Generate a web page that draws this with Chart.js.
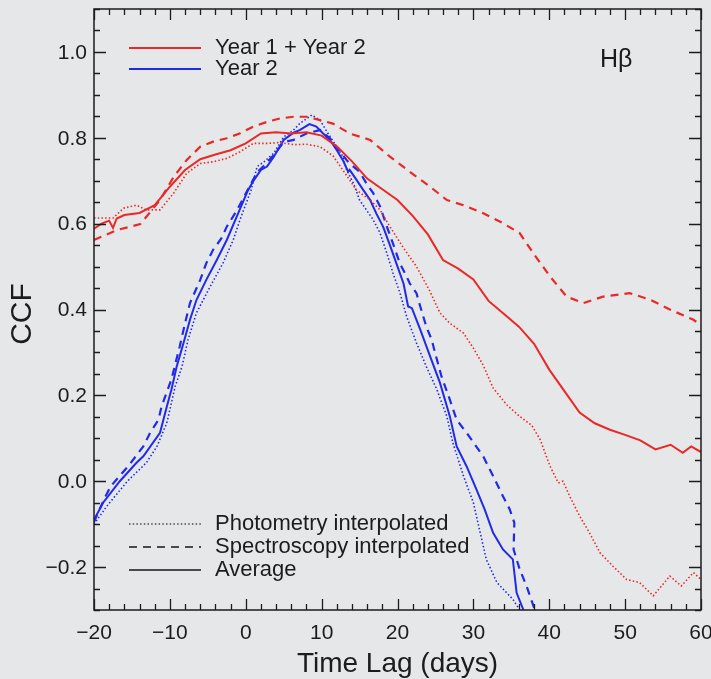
<!DOCTYPE html>
<html>
<head>
<meta charset="utf-8">
<script src="https://cdn.jsdelivr.net/npm/chart.js@4/dist/chart.umd.min.js"></script>
<style>
  html,body{margin:0;padding:0;background:#e6e7e8;}
  canvas{display:block;}
</style>
</head>
<body>
<canvas id="c" width="711" height="679"></canvas>
<script>
// ---- Tick labels ----
const xTickValues = [-20,-10,0,10,20,30,40,50,60];
const xTickLabels = ['\u221220','\u221210','0','10','20','30','40','50','60'];
const yTickValues = [-0.2,0,0.2,0.4,0.6,0.8,1.0];
const yTickLabels = ['\u22120.2','0.0','0.2','0.4','0.6','0.8','1.0'];

// ---- Year 1 + Year 2 (red) ----
const y12AvgLag = [-20,-19,-18,-17.5,-17,-16,-14,-12,-10,-8,-6,-4,-2,0,2,4,6,8,10,12,14,16,18,20,22,24,26,28,30,32,34,36,38,40,42,44,46,48,50,52,54,56,57.6,58.7,60];
const y12AvgCCF = [0.588,0.600,0.607,0.590,0.612,0.620,0.625,0.643,0.686,0.725,0.750,0.761,0.771,0.787,0.810,0.813,0.810,0.813,0.805,0.780,0.745,0.705,0.680,0.655,0.618,0.575,0.515,0.495,0.470,0.420,0.390,0.360,0.320,0.260,0.210,0.160,0.135,0.120,0.108,0.095,0.074,0.085,0.066,0.081,0.068];

const y12SpecLag = [-20,-17,-13.9,-13.1,-11.3,-9.5,-7.8,-6,-4.3,-2.5,-0.8,1,2.8,4.5,6.3,8,9.8,11.5,13.7,16.4,19,21.6,24.3,26.5,28.7,31.3,33.9,36.1,37.9,40.1,42.3,44.5,47.1,50.6,53.3,55.9,59,60];
const y12SpecCCF = [0.562,0.585,0.599,0.616,0.655,0.709,0.748,0.779,0.791,0.799,0.810,0.826,0.837,0.845,0.849,0.849,0.841,0.833,0.810,0.795,0.756,0.721,0.686,0.655,0.643,0.624,0.601,0.578,0.531,0.477,0.430,0.415,0.430,0.438,0.423,0.400,0.376,0.364];

const y12PhotLag = [-20,-17.5,-16.1,-14.4,-13.1,-11.3,-9.5,-7.8,-6,-4.3,-2.5,-0.8,1,2.8,4.5,6.3,8,9.8,11.5,13.3,14.6,16.4,17.7,19,20.8,22.5,24.2,25.6,26.9,28.7,30,31.3,32.6,34.4,36.1,37.7,38.8,40.1,41.2,41.8,42.7,44,45.3,46.7,48.4,50.2,51.9,53.7,54.8,55.9,57.4,59,60];
const y12PhotCCF = [0.613,0.613,0.636,0.643,0.632,0.632,0.671,0.717,0.740,0.744,0.752,0.767,0.787,0.787,0.789,0.784,0.785,0.779,0.758,0.712,0.678,0.655,0.632,0.593,0.543,0.500,0.445,0.392,0.368,0.345,0.310,0.270,0.217,0.178,0.151,0.130,0.097,0.035,-0.004,0.000,-0.035,-0.081,-0.120,-0.167,-0.198,-0.229,-0.236,-0.267,-0.244,-0.221,-0.244,-0.213,-0.229];

// ---- Year 2 (blue) ----
const y2AvgLag = [-20,-18.8,-16.6,-14.4,-13.5,-11.3,-10.4,-9.8,-9.1,-8.2,-7.35,-6.5,-5.2,-3.8,-2.5,-1.2,0.3,1.1,2,2.8,3.7,5,6.3,7.1,8.4,9.3,10.2,11.1,12,12.8,13.5,13.7,14.6,15.5,16.4,17.2,18.1,19,19.9,20.8,21.4,21.9,23,24.3,25.6,26.9,27.8,29.1,30.4,31.5,32.6,33.9,35.2,35.7,36.6];
const y2AvgCCF = [-0.090,-0.050,0.000,0.043,0.058,0.113,0.174,0.213,0.267,0.322,0.376,0.422,0.469,0.516,0.562,0.616,0.678,0.702,0.725,0.733,0.756,0.795,0.812,0.818,0.832,0.826,0.810,0.795,0.771,0.748,0.721,0.725,0.702,0.678,0.655,0.624,0.593,0.550,0.505,0.460,0.407,0.403,0.353,0.291,0.229,0.151,0.081,0.035,-0.019,-0.066,-0.120,-0.159,-0.182,-0.260,-0.300];

const y2SpecLag = [-20,-18.7,-17.8,-15.5,-13.5,-12.6,-11.5,-11.1,-9.8,-8.7,-8,-7.35,-6,-5.2,-4.3,-3.2,-2.5,-1.2,0,1.5,2.4,3.7,5,6.3,8,9.8,11.1,13.3,13.7,15,15.9,16.8,17.7,18.6,19.4,20.3,21.2,21.6,22.5,23,23.8,24.5,25.2,25.8,26.9,27.8,29.1,31.3,32.6,33.9,34.8,35.4,35.3,36.1,37,38.1];
const y2SpecCCF = [-0.095,-0.043,-0.012,0.035,0.081,0.113,0.143,0.174,0.237,0.314,0.368,0.415,0.469,0.508,0.539,0.566,0.593,0.630,0.670,0.720,0.735,0.760,0.790,0.795,0.810,0.818,0.799,0.748,0.740,0.721,0.694,0.671,0.640,0.593,0.554,0.508,0.477,0.461,0.438,0.407,0.360,0.330,0.283,0.244,0.190,0.143,0.113,0.058,0.012,-0.035,-0.066,-0.097,-0.159,-0.205,-0.244,-0.300];

const y2PhotLag = [-20,-18.3,-15.6,-13.1,-11.7,-10.4,-9.3,-8.4,-7.6,-6.5,-4.7,-3.0,-1.65,-0.76,0.7,1.5,2.4,3.7,5,6.3,7.1,8.7,9.8,10.7,12,12.8,13.3,14.2,15,15.9,16.8,17.7,18.6,19.4,20.3,21.2,22.5,23.8,25.2,26.5,27.3,28.7,30,30.9,31.7,33.1,35.2,36.1];
const y2PhotCCF = [-0.100,-0.058,0.000,0.043,0.081,0.136,0.221,0.267,0.330,0.392,0.453,0.508,0.562,0.609,0.678,0.733,0.744,0.764,0.802,0.818,0.833,0.853,0.841,0.814,0.779,0.756,0.725,0.694,0.655,0.632,0.609,0.578,0.531,0.485,0.440,0.384,0.322,0.267,0.213,0.151,0.089,0.012,-0.050,-0.120,-0.182,-0.236,-0.275,-0.300];

const RED = 'rgb(234,40,40)';
const BLUE = 'rgb(32,42,232)';
const BG = '#e6e7e8';
const INK = '#1c1c1c';
const FONT = '"Liberation Sans", Arial, Helvetica, sans-serif';

function pts(xs, ys){ return xs.map((x,i)=>({x:x, y:ys[i]})); }

const datasets = [
  {data: pts(y12PhotLag, y12PhotCCF), borderColor: RED, borderWidth: 1.6, borderDash:[1.5,2.2]},
  {data: pts(y12SpecLag, y12SpecCCF), borderColor: RED, borderWidth: 2.2, borderDash:[8,6]},
  {data: pts(y12AvgLag, y12AvgCCF), borderColor: RED, borderWidth: 2},
  {data: pts(y2PhotLag, y2PhotCCF), borderColor: BLUE, borderWidth: 1.6, borderDash:[1.5,2.2]},
  {data: pts(y2SpecLag, y2SpecCCF), borderColor: BLUE, borderWidth: 2.2, borderDash:[8,6]},
  {data: pts(y2AvgLag, y2AvgCCF), borderColor: BLUE, borderWidth: 2}
].map(d=>Object.assign({fill:false, pointRadius:0, tension:0}, d));

const framePlugin = {
  id:'frame',
  beforeDraw(chart){
    const ctx = chart.ctx;
    ctx.save(); ctx.fillStyle = BG; ctx.fillRect(0,0,chart.width,chart.height); ctx.restore();
  },
  afterDatasetsDraw(chart){
    const ctx = chart.ctx, a = chart.chartArea;
    const xs = chart.scales.x, ys = chart.scales.y;
    ctx.save();
    ctx.strokeStyle = INK;
    ctx.lineWidth = 1.5;
    ctx.strokeRect(a.left, a.top, a.right-a.left, a.bottom-a.top);
    ctx.lineWidth = 1.3;
    for(let v=-20; v<=60; v+=2){
      const px = Math.round(xs.getPixelForValue(v))+0.5;
      const L = (v%10===0)?11:6;
      ctx.beginPath();
      ctx.moveTo(px, a.bottom); ctx.lineTo(px, a.bottom-L);
      ctx.moveTo(px, a.top); ctx.lineTo(px, a.top+L);
      ctx.stroke();
    }
    for(let k=-6; k<=22; k++){
      const v = k*0.05;
      const py = Math.round(ys.getPixelForValue(v))+0.5;
      const L = (k%4===0)?12:6;
      ctx.beginPath();
      ctx.moveTo(a.left, py); ctx.lineTo(a.left+L, py);
      ctx.moveTo(a.right, py); ctx.lineTo(a.right-L, py);
      ctx.stroke();
    }
    ctx.fillStyle = INK;
    ctx.font = '21px ' + FONT;
    ctx.textAlign = 'center'; ctx.textBaseline = 'middle';
    xTickValues.forEach((v,i)=>{
      ctx.fillText(xTickLabels[i], xs.getPixelForValue(v), 633);
    });
    ctx.textAlign = 'right';
    yTickValues.forEach((v,i)=>{
      ctx.fillText(yTickLabels[i], 87, ys.getPixelForValue(v)+1);
    });
    // axis titles
    ctx.font = '28px ' + FONT;
    ctx.textAlign = 'center';
    ctx.textBaseline = 'alphabetic';
    ctx.fillText('Time Lag (days)', (a.left+a.right)/2, 672);
    ctx.save();
    ctx.translate(31, 314); ctx.rotate(-Math.PI/2);
    ctx.font = '30px ' + FONT;
    ctx.fillText('CCF', 0, 0);
    ctx.restore();
    // H beta
    ctx.font = '25px ' + FONT;
    ctx.textAlign = 'left';
    ctx.textBaseline = 'middle';
    ctx.fillText('H\u03B2', 600, 60);
    // legend 1
    ctx.font = '22px ' + FONT;
    const leg1 = [['Year 1 + Year 2', RED, 48], ['Year 2', BLUE, 69]];
    leg1.forEach(([t,c,y])=>{
      ctx.strokeStyle = c; ctx.lineWidth = 2; ctx.setLineDash([]);
      ctx.beginPath(); ctx.moveTo(129,y); ctx.lineTo(201,y); ctx.stroke();
      ctx.fillText(t, 215, y);
    });
    // legend 2
    const leg2 = [['Photometry interpolated',[1.5,2.2],1.4,524], ['Spectroscopy interpolated',[8,6],1.8,547], ['Average',[],2,570]];
    leg2.forEach(([t,d,w,y])=>{
      ctx.strokeStyle = '#4a4a4a'; ctx.lineWidth = w; ctx.setLineDash(d);
      ctx.beginPath(); ctx.moveTo(129,y); ctx.lineTo(201,y); ctx.stroke();
      ctx.setLineDash([]);
      ctx.fillText(t, 215, y);
    });
    ctx.restore();
  }
};

new Chart(document.getElementById('c'), {
  type:'line',
  data:{datasets: datasets},
  options:{
    responsive:false,
    animation:false,
    devicePixelRatio:1,
    layout:{padding:{left:94, right:10, top:9, bottom:69}},
    scales:{
      x:{type:'linear', min:-20, max:60, display:false},
      y:{type:'linear', min:-0.3, max:1.1, display:false}
    },
    plugins:{legend:{display:false}, tooltip:{enabled:false}}
  },
  plugins:[framePlugin]
});
</script>
</body>
</html>
